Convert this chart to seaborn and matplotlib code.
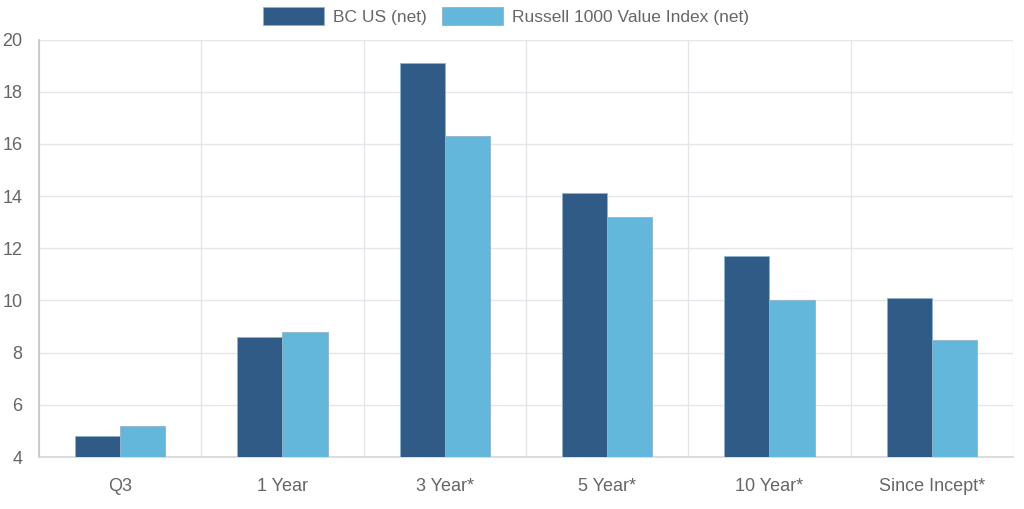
import pandas as pd
import seaborn as sns
import matplotlib.pyplot as plt
from matplotlib.ticker import FixedLocator

# dados do grafico
categorias = ['Q3', '1 Year', '3 Year*', '5 Year*', '10 Year*', 'Since Incept*']
bc_us = [4.8, 8.6, 19.1, 14.1, 11.7, 10.1]
russell = [5.2, 8.8, 16.3, 13.2, 10.0, 8.5]
series = ['BC US (net)', 'Russell 1000 Value Index (net)']
y_ticks = [4, 6, 8, 10, 12, 14, 16, 18, 20]

tabela = pd.DataFrame({
    'categoria': categorias * 2,
    'valor': bc_us + russell,
    'serie': [series[0]] * len(categorias) + [series[1]] * len(categorias),
})

sns.set_style('white')
plt.rcParams['font.family'] = ['Liberation Sans', 'DejaVu Sans']

fig = plt.figure(figsize=(10.24, 5.09), dpi=100)
ax = fig.add_axes([39 / 1024, 1 - 457 / 509, 974 / 1024, 417.5 / 509])

sns.barplot(data=tabela, x='categoria', y='valor', hue='serie',
            palette=['#2f5b86', '#62b7da'], width=0.555, ax=ax,
            edgecolor='#8fb3cc', linewidth=0.6, saturation=1, zorder=3)

ax.set_ylim(4, 20)
ax.set_xlim(-0.5, len(categorias) - 0.5)
ax.set_xlabel('')
ax.set_ylabel('')

grid_cor = '#e3e6ea'
ax.set_yticks(y_ticks)
ax.yaxis.grid(True, color=grid_cor, linewidth=1, zorder=0)
# linhas verticais entre categorias
fronteiras = [i - 0.5 for i in range(len(categorias) + 1)]
ax.xaxis.set_major_locator(FixedLocator(fronteiras))
ax.set_xticklabels([''] * len(fronteiras))
ax.xaxis.set_minor_locator(FixedLocator(range(len(categorias))))
ax.set_xticklabels(categorias, minor=True)
ax.xaxis.grid(True, which='major', color=grid_cor, linewidth=1, zorder=0)

ax.tick_params(axis='x', which='major', length=10, color=grid_cor, width=1)
ax.tick_params(axis='x', which='minor', length=0, pad=15, labelsize=13, labelcolor='#666666')
ax.tick_params(axis='y', length=10, color=grid_cor, width=1, pad=2, labelsize=13, labelcolor='#666666')

for lado in ['top', 'right']:
    ax.spines[lado].set_visible(False)
ax.spines['left'].set_color('#c4c4c4')
ax.spines['left'].set_linewidth(1.2)
ax.spines['bottom'].set_color('#d6d6d6')
ax.spines['bottom'].set_linewidth(1.2)

handles, labels = ax.get_legend_handles_labels()
ax.get_legend().remove()
fig.legend(handles, labels, loc='center', bbox_to_anchor=(506 / 1024, 1 - 16 / 509),
           ncol=2, frameon=False, fontsize=12.5, labelcolor='#666666',
           handlelength=3.5, handleheight=1.3, handletextpad=0.5, columnspacing=0.9)

plt.savefig('out.png', dpi=100, facecolor='white')
